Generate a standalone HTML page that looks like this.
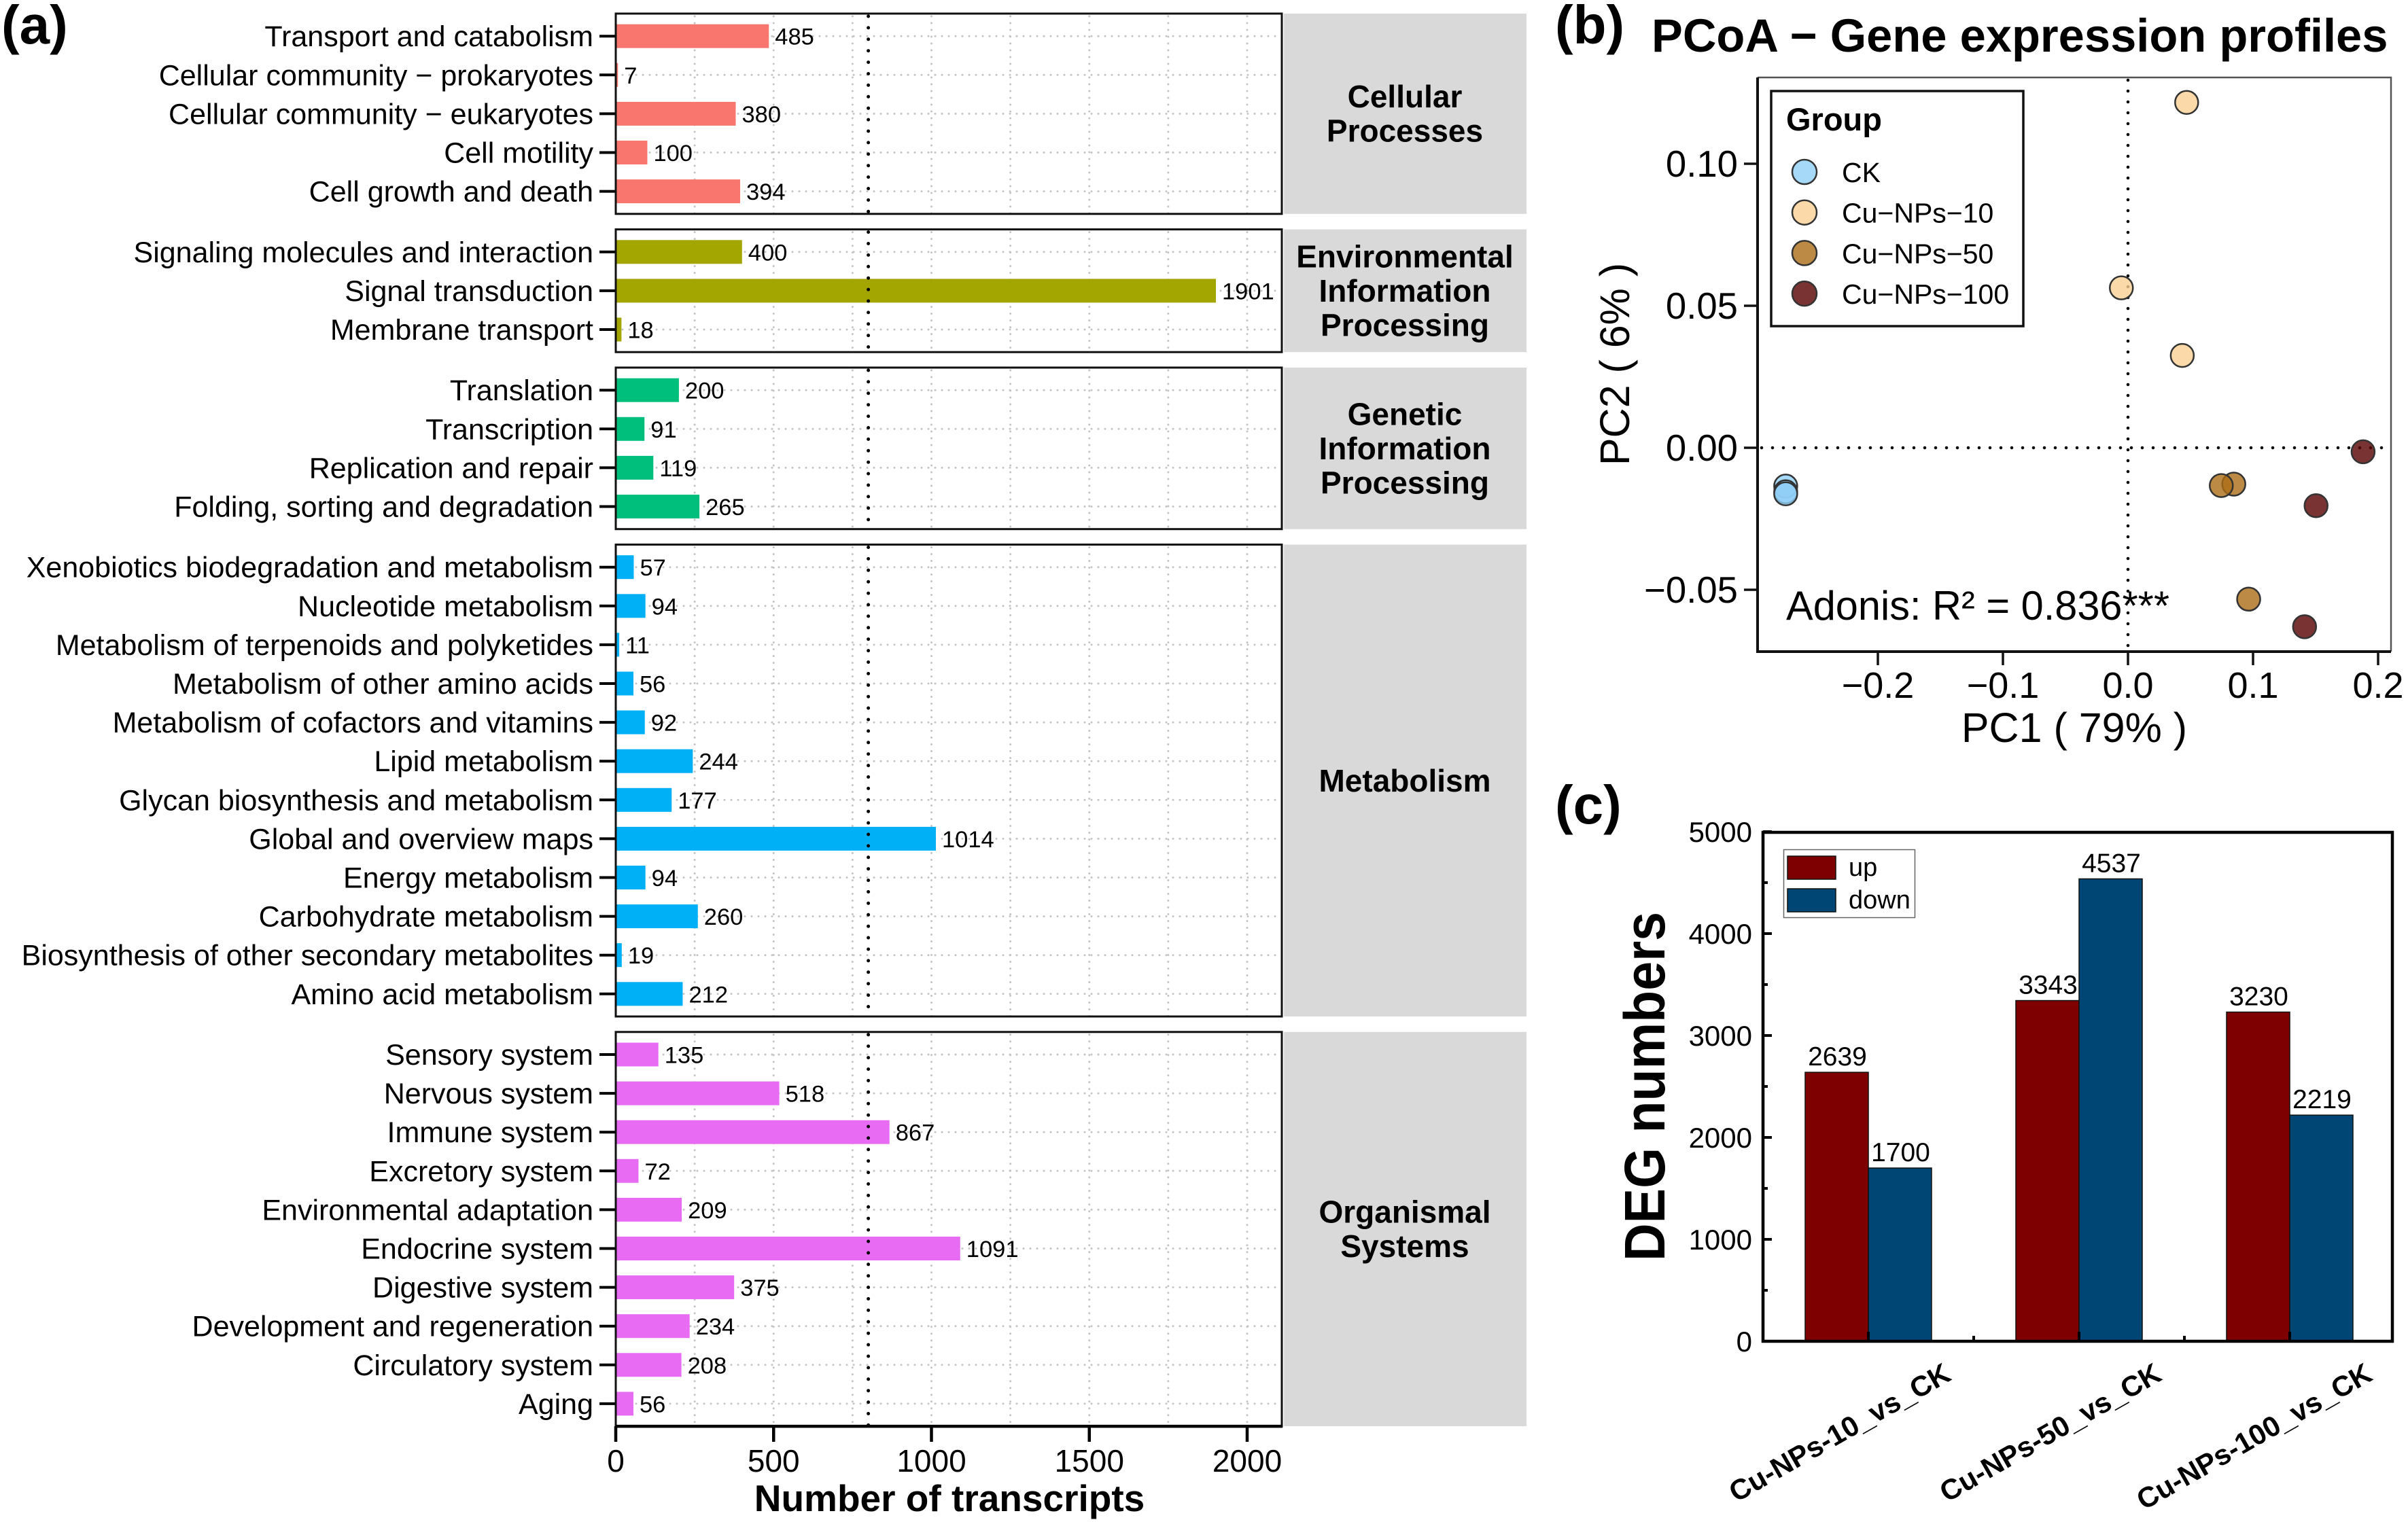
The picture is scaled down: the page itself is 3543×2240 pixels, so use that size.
<!DOCTYPE html>
<html>
<head>
<meta charset="utf-8">
<title>Transcript classification, PCoA and DEG numbers</title>
<style>
html,body{margin:0;padding:0;background:#fff;}
svg{display:block;font-family:"Liberation Sans",Arial,sans-serif;}
</style>
</head>
<body>
<svg id="figure" xmlns="http://www.w3.org/2000/svg" width="3543" height="2240" viewBox="0 0 3543 2240">
<rect x="0" y="0" width="3543" height="2240" fill="#ffffff"/>
</svg>
<script>
// ---------- Panel (a) data ----------
const cellularLabels = ["Transport and catabolism","Cellular community − prokaryotes","Cellular community − eukaryotes","Cell motility","Cell growth and death"];
const cellularValues = [485,7,380,100,394];
const environmentalLabels = ["Signaling molecules and interaction","Signal transduction","Membrane transport"];
const environmentalValues = [400,1901,18];
const geneticLabels = ["Translation","Transcription","Replication and repair","Folding, sorting and degradation"];
const geneticValues = [200,91,119,265];
const metabolismLabels = ["Xenobiotics biodegradation and metabolism","Nucleotide metabolism","Metabolism of terpenoids and polyketides","Metabolism of other amino acids","Metabolism of cofactors and vitamins","Lipid metabolism","Glycan biosynthesis and metabolism","Global and overview maps","Energy metabolism","Carbohydrate metabolism","Biosynthesis of other secondary metabolites","Amino acid metabolism"];
const metabolismValues = [57,94,11,56,92,244,177,1014,94,260,19,212];
const organismalLabels = ["Sensory system","Nervous system","Immune system","Excretory system","Environmental adaptation","Endocrine system","Digestive system","Development and regeneration","Circulatory system","Aging"];
const organismalValues = [135,518,867,72,209,1091,375,234,208,56];
const cellularStrip = ["Cellular","Processes"];
const environmentalStrip = ["Environmental","Information","Processing"];
const geneticStrip = ["Genetic","Information","Processing"];
const metabolismStrip = ["Metabolism"];
const organismalStrip = ["Organismal","Systems"];
const countTicks = [0,500,1000,1500,2000];
const countMinorTicks = [250,750,1250,1750];
const thresholdCount = 800;

// ---------- Panel (b) data ----------
const ckPc1 = [-0.2737,-0.2737,-0.2737];
const ckPc2 = [-0.0135,-0.0155,-0.0162];
const np10Pc1 = [0.0469,-0.0053,0.0434];
const np10Pc2 = [0.1216,0.0563,0.0325];
const np50Pc1 = [0.0846,0.0746,0.0965];
const np50Pc2 = [-0.0128,-0.0133,-0.0533];
const np100Pc1 = [0.1880,0.1504,0.1412];
const np100Pc2 = [-0.0014,-0.0204,-0.0630];
const groupNames = ["CK","Cu−NPs−10","Cu−NPs−50","Cu−NPs−100"];
const pc1Ticks = [-0.2,-0.1,0,0.1,0.2];
const pc1TickLabels = ["−0.2","−0.1","0.0","0.1","0.2"];
const pc2Ticks = [0.10,0.05,0,-0.05];
const pc2TickLabels = ["0.10","0.05","0.00","−0.05"];

// ---------- Panel (c) data ----------
const comparisons = ["Cu-NPs-10_vs_CK","Cu-NPs-50_vs_CK","Cu-NPs-100_vs_CK"];
const upValues = [2639,3343,3230];
const downValues = [1700,4537,2219];
const degTicks = [0,1000,2000,3000,4000,5000];
const degMinorTicks = [500,1500,2500,3500,4500];

// ---------- helpers ----------
const NS = "http://www.w3.org/2000/svg";
const svg = document.getElementById("figure");
function add(parent, tag, attrs, text){
  const e = document.createElementNS(NS, tag);
  for (const k in attrs) e.setAttribute(k, attrs[k]);
  if (text !== undefined) e.textContent = text;
  parent.appendChild(e);
  return e;
}
function slug(s){ return String(s).toLowerCase().replace(/[^a-z0-9]+/g,"-").replace(/^-|-$/g,""); }

// ---------- Panel (a) ----------
const aLeft = 906, aRight = 1886, stripLeft = 1889, stripRight = 2246;
const rowStep = 57.1, rowPad = 33.2, panelGap = 22.8;
const xCount = v => aLeft + v * 0.4645;
const panels = [
  {id:"cellular", labels:cellularLabels, values:cellularValues, color:"#F8766D", strip:cellularStrip},
  {id:"environmental", labels:environmentalLabels, values:environmentalValues, color:"#A3A500", strip:environmentalStrip},
  {id:"genetic", labels:geneticLabels, values:geneticValues, color:"#00BF7D", strip:geneticStrip},
  {id:"metabolism", labels:metabolismLabels, values:metabolismValues, color:"#00B0F6", strip:metabolismStrip},
  {id:"organismal", labels:organismalLabels, values:organismalValues, color:"#E76BF3", strip:organismalStrip}
];
const aLabel = add(svg,"text",{x:2,y:64,"font-size":80,"font-weight":"bold"},"(a)");



let panelTop = 20;
panels.forEach(function(p){
  const h = (p.labels.length-1)*rowStep + 2*rowPad;
  const bottom = panelTop + h;
  const g = add(svg,"g",{});
  
  

  const strip = add(g,"rect",{x:stripLeft,y:panelTop,width:stripRight-stripLeft,height:h,fill:"#D9D9D9"});
  
  
  const lineH = 50.5;
  const cy = panelTop + h/2;
  p.strip.forEach(function(t,i){
    const st = add(g,"text",{x:2067,y:cy + (i-(p.strip.length-1)/2)*lineH + 16,"font-size":46,"font-weight":"bold","text-anchor":"middle"},t);
    
    
  });

  countTicks.concat(countMinorTicks).forEach(function(v){
    const gl = add(g,"line",{x1:xCount(v),x2:xCount(v),y1:panelTop+4,y2:bottom,stroke:"#C4C4C4","stroke-width":3,"stroke-linecap":"round","stroke-dasharray":"0 10"});
    
    
  });

  p.labels.forEach(function(lbl,i){
    const y = panelTop + rowPad + i*rowStep;
    const gh = add(g,"line",{x1:aLeft,x2:aRight,y1:y,y2:y,stroke:"#C4C4C4","stroke-width":3,"stroke-linecap":"round","stroke-dasharray":"0 10"});
    
    
    const bar = add(g,"rect",{x:xCount(0),y:y-17.5,width:xCount(p.values[i])-xCount(0),height:35,fill:p.color});
    
    
    const val = add(g,"text",{x:xCount(p.values[i])+9,y:y+12.5,"font-size":34.5},String(p.values[i]));
    
    
    const tick = add(g,"line",{x1:882,x2:aLeft,y1:y,y2:y,stroke:"#000","stroke-width":4});
    
    
    const lab = add(g,"text",{x:873,y:y+15,"font-size":43,"text-anchor":"end"},lbl);
    
    
  });

  const vl = add(g,"line",{x1:xCount(thresholdCount),x2:xCount(thresholdCount),y1:panelTop+4,y2:bottom,stroke:"#000","stroke-width":5,"stroke-linecap":"round","stroke-dasharray":"0 16.9"});
  
  
  const frame = add(g,"rect",{x:aLeft,y:panelTop,width:aRight-aLeft,height:h,fill:"none",stroke:"#111","stroke-width":3});
  
  

  panelTop = bottom + panelGap;
});
const aBottom = panelTop - panelGap;
const aAxis = add(svg,"line",{x1:aLeft-1,x2:aRight+1,y1:aBottom,y2:aBottom,stroke:"#000","stroke-width":4.5});


countTicks.forEach(function(v){
  const t = add(svg,"line",{x1:xCount(v),x2:xCount(v),y1:aBottom,y2:2122,stroke:"#000","stroke-width":4.5});
  
  
  const l = add(svg,"text",{x:xCount(v),y:2166,"font-size":46,"text-anchor":"middle"},String(v));
  
  
});
const aTitle = add(svg,"text",{x:1397,y:2224,"font-size":55,"font-weight":"bold","text-anchor":"middle"},"Number of transcripts");



// ---------- Panel (b) ----------
const bLeft = 2586, bRight = 3518, bTop = 114, bBottom = 959;
const xPc1 = v => 3131 + v * 1840;
const yPc2 = v => 659 - v * 4180;
const bLabel = add(svg,"text",{x:2288,y:64,"font-size":80,"font-weight":"bold"},"(b)");


const bTitle = add(svg,"text",{x:2430,y:76,"font-size":68.7,"font-weight":"bold"},"PCoA − Gene expression profiles");



const zeroV = add(svg,"line",{x1:xPc1(0),x2:xPc1(0),y1:bTop+4,y2:bBottom,stroke:"#000","stroke-width":4.5,"stroke-linecap":"round","stroke-dasharray":"0 16"});


const zeroH = add(svg,"line",{x1:bLeft+6,x2:bRight,y1:yPc2(0),y2:yPc2(0),stroke:"#000","stroke-width":4.5,"stroke-linecap":"round","stroke-dasharray":"0 16"});



const bFrameTop = add(svg,"path",{d:"M"+bLeft+" "+bTop+"H"+bRight+"V"+bBottom,fill:"none",stroke:"#555","stroke-width":2.5});


const bFrameAxes = add(svg,"path",{d:"M"+bLeft+" "+bTop+"V"+bBottom+"H"+bRight,fill:"none",stroke:"#111","stroke-width":4});



pc1Ticks.forEach(function(v,i){
  const t = add(svg,"line",{x1:xPc1(v),x2:xPc1(v),y1:bBottom,y2:979,stroke:"#111","stroke-width":3.5});
  
  
  const l = add(svg,"text",{x:xPc1(v),y:1027,"font-size":54,"text-anchor":"middle"},pc1TickLabels[i]);
  
  
});
pc2Ticks.forEach(function(v,i){
  const t = add(svg,"line",{x1:2566,x2:bLeft,y1:yPc2(v),y2:yPc2(v),stroke:"#111","stroke-width":3.5});
  
  
  const l = add(svg,"text",{x:2557,y:yPc2(v)+19,"font-size":54.5,"text-anchor":"end"},pc2TickLabels[i]);
  
  
});
const pc1Title = add(svg,"text",{x:3052,y:1092,"font-size":61,"text-anchor":"middle"},"PC1 ( 79% )");


const pc2Title = add(svg,"text",{x:2397,y:536,"font-size":61,"text-anchor":"middle",transform:"rotate(-90 2397 536)"},"PC2 ( 6% )");



const groupFills = ["#90CEF6","#FACF92","#AC6D16","#590000"];
const groupXs = [ckPc1,np10Pc1,np50Pc1,np100Pc1];
const groupYs = [ckPc2,np10Pc2,np50Pc2,np100Pc2];
groupXs.forEach(function(xs,g){
  xs.forEach(function(x,i){
    const c = add(svg,"circle",{cx:xPc1(x),cy:yPc2(groupYs[g][i]),r:17,fill:groupFills[g],"fill-opacity":0.8,stroke:"#333","stroke-width":2.5});
    
    
  });
});

const adonis = add(svg,"text",{x:2628,y:912,"font-size":60,textLength:564,lengthAdjust:"spacingAndGlyphs"},"Adonis: R² = 0.836***");



const bLegend = add(svg,"rect",{x:2606,y:134,width:371,height:346,fill:"#fff",stroke:"#111","stroke-width":3.5});


const bLegendTitle = add(svg,"text",{x:2628,y:192,"font-size":47,"font-weight":"bold"},"Group");


groupNames.forEach(function(n,i){
  const y = 253 + i*59.7;
  const c = add(svg,"circle",{cx:2655,cy:y,r:18,fill:groupFills[i],"fill-opacity":0.8,stroke:"#333","stroke-width":2.5});
  
  
  const t = add(svg,"text",{x:2710,y:y+15,"font-size":41},n);
  
  
});

// ---------- Panel (c) ----------
const cLeft = 2594, cRight = 3520, cTop = 1225, cBottom = 1974;
const yDeg = v => cBottom - v * 0.15;
const xCat = i => 2749 + i * 310;
const barW = 93;
const cLabel = add(svg,"text",{x:2288,y:1212,"font-size":80,"font-weight":"bold"},"(c)");



comparisons.forEach(function(c,i){
  const up = add(svg,"rect",{x:xCat(i)-barW,y:yDeg(upValues[i]),width:barW,height:yDeg(0)-yDeg(upValues[i]),fill:"#7F0000",stroke:"#111","stroke-width":1.5});
  
  
  const dn = add(svg,"rect",{x:xCat(i),y:yDeg(downValues[i]),width:barW,height:yDeg(0)-yDeg(downValues[i]),fill:"#004675",stroke:"#111","stroke-width":1.5});
  
  
  const ul = add(svg,"text",{x:xCat(i)-barW/2+1,y:yDeg(upValues[i])-10,"font-size":39,"text-anchor":"middle"},String(upValues[i]));
  
  
  const dl = add(svg,"text",{x:xCat(i)+barW/2+1,y:yDeg(downValues[i])-10,"font-size":39,"text-anchor":"middle"},String(downValues[i]));
  
  
  const tk = add(svg,"line",{x1:xCat(i),x2:xCat(i),y1:cBottom,y2:cBottom-14,stroke:"#000","stroke-width":4});
  
  
  if (i < comparisons.length-1){
    const mt = add(svg,"line",{x1:xCat(i+0.5),x2:xCat(i+0.5),y1:cBottom,y2:cBottom-8,stroke:"#000","stroke-width":4});
    
    
  }
  const ex = xCat(i)+124, ey = 2030;
  const cl = add(svg,"text",{x:ex,y:ey,"font-size":42,"font-weight":"bold","text-anchor":"end",transform:"rotate(-29.7 "+ex+" "+ey+")"},c);
  
  
});
const cFrame = add(svg,"rect",{x:cLeft,y:cTop,width:cRight-cLeft,height:cBottom-cTop,fill:"none",stroke:"#000","stroke-width":4.5});


degTicks.forEach(function(v){
  const t = add(svg,"line",{x1:cLeft,x2:2607,y1:yDeg(v),y2:yDeg(v),stroke:"#000","stroke-width":4});
  
  
  const l = add(svg,"text",{x:2578,y:yDeg(v)+15,"font-size":42,"text-anchor":"end"},String(v));
  
  
});
degMinorTicks.forEach(function(v){
  const t = add(svg,"line",{x1:cLeft,x2:2601,y1:yDeg(v),y2:yDeg(v),stroke:"#000","stroke-width":4});
  
  
});
const degTitle = add(svg,"text",{x:2449,y:1599,"font-size":84,"font-weight":"bold","text-anchor":"middle",textLength:514,lengthAdjust:"spacingAndGlyphs",transform:"rotate(-90 2449 1599)"},"DEG numbers");



const cLegend = add(svg,"rect",{x:2624.5,y:1250.5,width:193,height:100,fill:"#fff",stroke:"#666","stroke-width":1.5});


const upSw = add(svg,"rect",{x:2630,y:1260,width:71,height:34,fill:"#7F0000",stroke:"#111","stroke-width":1.5});


const dnSw = add(svg,"rect",{x:2630,y:1308,width:71,height:34,fill:"#004675",stroke:"#111","stroke-width":1.5});


const upTx = add(svg,"text",{x:2720,y:1289,"font-size":38},"up");


const dnTx = add(svg,"text",{x:2720,y:1337,"font-size":38},"down");


</script>
</body>
</html>
